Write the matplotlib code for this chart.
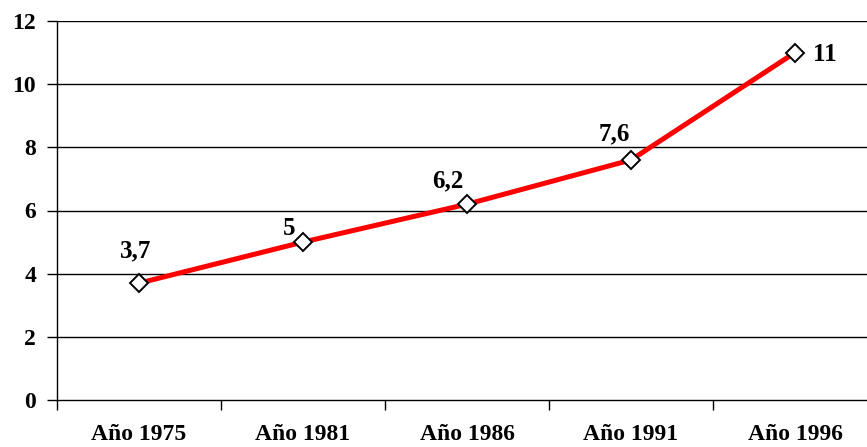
import matplotlib
matplotlib.use("Agg")
import matplotlib.pyplot as plt
from matplotlib.ticker import FixedLocator, NullFormatter

categories = ["Año 1975", "Año 1981", "Año 1986", "Año 1991", "Año 1996"]
values = [3.7, 5, 6.2, 7.6, 11]
value_labels = ["3,7", "5", "6,2", "7,6", "11"]
label_offsets = [(-3, 32), (-14, 14), (-19, 23), (-17, 26), (30, -2)]
yticks = [0, 2, 4, 6, 8, 10, 12]

plt.rcParams['font.family'] = ['Liberation Serif', 'DejaVu Serif']
FS = 17

W, H = 867, 447
fig = plt.figure(figsize=(W / 100, H / 100), dpi=100)
left, right = 57 / W, 877 / W
bottom, top = (H - 400) / H, (H - 21) / H
ax = fig.add_axes([left, bottom, right - left, top - bottom])

x = list(range(len(categories)))
ax.set_xlim(-0.5, len(categories) - 0.5)
ax.set_ylim(0, 12)

for v in yticks[1:]:
    ax.axhline(v, color='black', lw=1.0, zorder=1)

ax.plot(x, values, color='#ff0000', lw=3.6, zorder=3,
        marker='D', markersize=9.5, markerfacecolor='white',
        markeredgecolor='black', markeredgewidth=1.4)

for xi, v, lab, off in zip(x, values, value_labels, label_offsets):
    ax.annotate(lab, (xi, v), xytext=off, textcoords='offset pixels',
                ha='center', va='center', fontsize=18, fontweight='bold')

for s in ['top', 'right']:
    ax.spines[s].set_visible(False)
ax.spines['left'].set_color('black')
ax.spines['bottom'].set_color('black')
ax.spines['left'].set_linewidth(1.0)
ax.spines['bottom'].set_linewidth(1.0)

ax.set_yticks(yticks)
ax.set_yticklabels([str(v) for v in yticks], fontsize=FS, fontweight='bold')
ax.tick_params(axis='y', length=7, width=1, pad=8)

ax.set_xticks(x)
ax.set_xticklabels(categories, fontsize=FS, fontweight='bold')
ax.tick_params(axis='x', which='major', length=0, pad=17)
ax.xaxis.set_minor_locator(FixedLocator([i - 0.5 for i in range(len(categories) + 1)]))
ax.xaxis.set_minor_formatter(NullFormatter())
ax.tick_params(axis='x', which='minor', length=7, width=1)

fig.savefig("out.png", dpi=100)
